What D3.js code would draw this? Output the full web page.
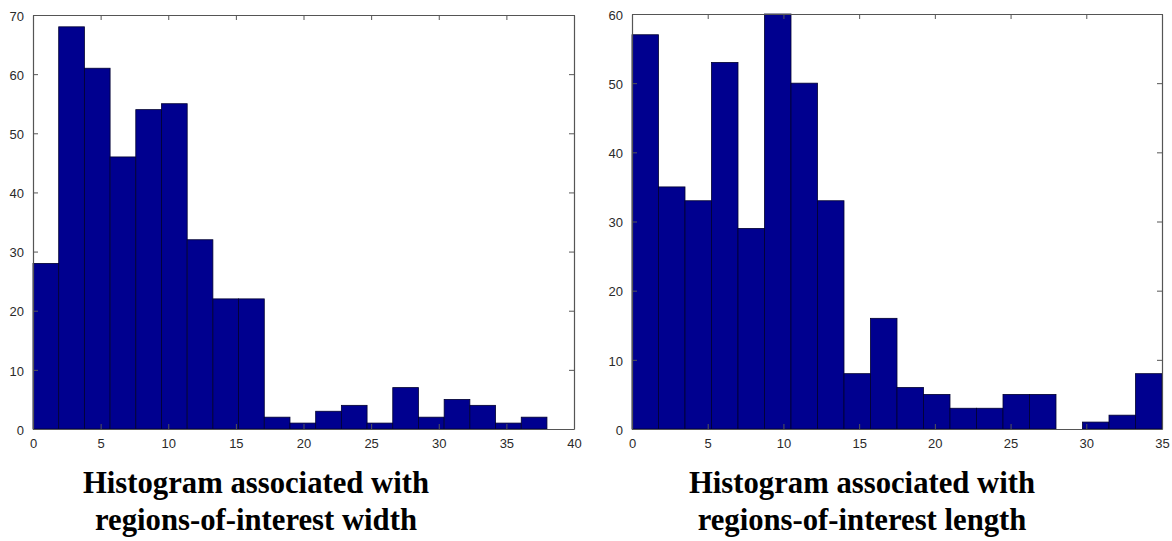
<!DOCTYPE html>
<html>
<head>
<meta charset="utf-8">
<script src="https://cdn.jsdelivr.net/npm/d3@7"></script>
<style>
  html, body { margin: 0; padding: 0; background: #fff; }
  svg { display: block; }
  .tick text { font-family: "Liberation Sans", Arial, sans-serif; font-size: 13px; fill: #2a2a2a; }
  .title { font-family: "Liberation Serif", "Times New Roman", serif; font-weight: bold; font-size: 30.7px; fill: #000; }
</style>
</head>
<body>
<script>
// Left histogram: regions-of-interest width (20 bins, width 1.9, from 0 to 38)
const widthBinStart = 0;
const widthBinSize = 1.9;
const widthCounts = [28, 68, 61, 46, 54, 55, 32, 22, 22, 2, 1, 3, 4, 1, 7, 2, 5, 4, 1, 2];
const widthXTicks = [0, 5, 10, 15, 20, 25, 30, 35, 40];
const widthYTicks = [0, 10, 20, 30, 40, 50, 60, 70];
const widthXDomain = [0, 40];
const widthYDomain = [0, 70];
const widthTitle = ["Histogram associated with", "regions-of-interest width"];

// Right histogram: regions-of-interest length (20 bins, width 1.75, from 0 to 35)
const lengthBinStart = 0;
const lengthBinSize = 1.75;
const lengthCounts = [57, 35, 33, 53, 29, 60, 50, 33, 8, 16, 6, 5, 3, 3, 5, 5, 0, 1, 2, 8];
const lengthXTicks = [0, 5, 10, 15, 20, 25, 30, 35];
const lengthYTicks = [0, 10, 20, 30, 40, 50, 60];
const lengthXDomain = [0, 35];
const lengthYDomain = [0, 60];
const lengthTitle = ["Histogram associated with", "regions-of-interest length"];

const W = 1172, H = 541;
const svg = d3.select("body").append("svg").attr("width", W).attr("height", H);

function drawHist(cfg) {
  const x = d3.scaleLinear().domain(cfg.xDomain).range([cfg.left, cfg.right]);
  const y = d3.scaleLinear().domain(cfg.yDomain).range([cfg.bottom, cfg.top]);
  const g = svg.append("g");
  const bins = cfg.counts.map((c, i) => ({
    x0: cfg.binStart + i * cfg.binSize,
    x1: cfg.binStart + (i + 1) * cfg.binSize,
    c
  }));
  g.selectAll("rect.bar").data(bins.filter(d => d.c > 0)).join("rect")
    .attr("class", "bar")
    .attr("x", d => x(d.x0))
    .attr("width", d => x(d.x1) - x(d.x0))
    .attr("y", d => y(d.c))
    .attr("height", d => y(0) - y(d.c))
    .attr("fill", "#00008f")
    .attr("stroke", "#000030")
    .attr("stroke-width", 0.8);

  const tl = 5;
  const xb = g.append("g").attr("transform", `translate(0,${cfg.bottom})`)
    .call(d3.axisBottom(x).tickValues(cfg.xTicks).tickSizeInner(-tl).tickSizeOuter(0).tickPadding(tl + 5));
  const xt = g.append("g").attr("transform", `translate(0,${cfg.top})`)
    .call(d3.axisTop(x).tickValues(cfg.xTicks).tickSizeInner(-tl).tickSizeOuter(0).tickFormat(""));
  const yl = g.append("g").attr("transform", `translate(${cfg.left},0)`)
    .call(d3.axisLeft(y).tickValues(cfg.yTicks).tickSizeInner(-tl).tickSizeOuter(0).tickPadding(tl + 4));
  const yr = g.append("g").attr("transform", `translate(${cfg.right},0)`)
    .call(d3.axisRight(y).tickValues(cfg.yTicks).tickSizeInner(-tl).tickSizeOuter(0).tickFormat(""));
  [xb, xt, yl, yr].forEach(a => {
    a.select(".domain").attr("stroke", "#555").attr("stroke-width", 1.2);
    a.selectAll(".tick line").attr("stroke", "#555");
  });
  xb.selectAll(".tick text").attr("dy", "0.71em");
  yl.selectAll(".tick text").attr("dy", "0.4em");

  const t = svg.append("text").attr("class", "title").attr("text-anchor", "middle");
  t.append("tspan").attr("x", cfg.titleX).attr("y", 493).text(cfg.title[0]);
  t.append("tspan").attr("x", cfg.titleX).attr("y", 530).text(cfg.title[1]);
}

drawHist({
  counts: widthCounts, binStart: widthBinStart, binSize: widthBinSize,
  xDomain: widthXDomain, yDomain: widthYDomain, xTicks: widthXTicks, yTicks: widthYTicks,
  left: 33, right: 574, top: 15, bottom: 429, title: widthTitle, titleX: 256
});
drawHist({
  counts: lengthCounts, binStart: lengthBinStart, binSize: lengthBinSize,
  xDomain: lengthXDomain, yDomain: lengthYDomain, xTicks: lengthXTicks, yTicks: lengthYTicks,
  left: 632, right: 1162, top: 14, bottom: 429, title: lengthTitle, titleX: 862
});
</script>
</body>
</html>
